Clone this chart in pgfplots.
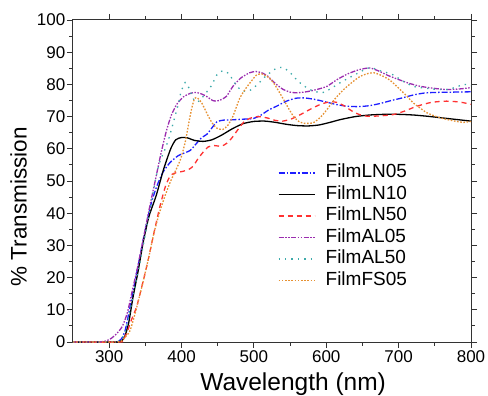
\documentclass[border=0pt]{standalone}
\usepackage{fontspec}
\setmainfont{Liberation Sans}
\usepackage{pgfplots}
\pgfplotsset{compat=1.18}
\definecolor{cblue}{RGB}{30,30,255}
\definecolor{cred}{RGB}{255,50,50}
\definecolor{cpurple}{RGB}{155,45,175}
\definecolor{cteal}{RGB}{60,170,170}
\definecolor{corange}{RGB}{230,145,50}
\begin{document}
\begin{tikzpicture}
\begin{axis}[
  name=ax,
  scale only axis,
  width=398pt, height=322pt,
  xmin=250, xmax=800, ymin=0, ymax=100,
  xtick={300,400,500,600,700,800},
  ytick={0,10,...,100},
  minor x tick num=1, minor y tick num=1,
  tick align=outside,
  major tick length=6pt, minor tick length=3.5pt,
  axis line style={line width=1pt, black!80},
  every tick/.style={line width=0.9pt, black!80},
  tick label style={font=\fontsize{17}{20}\selectfont},
  /pgf/number format/assume math mode=true,
  xticklabel style={inner sep=2pt},
  yticklabel style={inner sep=1.5pt},
  xlabel={Wavelength (nm)},
  ylabel={\% Transmission},
  xlabel style={font=\fontsize{24.5}{28}\selectfont, at={(axis description cs:0.553,-0.13)}, anchor=center},
  ylabel style={font=\fontsize{22.5}{27}\selectfont, at={(axis description cs:-0.137,0.42)}, anchor=center},
  legend style={at={(rel axis cs:0.507,0.562)}, anchor=north west, draw=none, fill=none,
    font=\fontsize{19}{22}\selectfont,
    nodes={inner sep=1pt, text height=13.5pt, text depth=4pt},
    row sep=2pt},
  legend cell align=left,
  legend image code/.code={\draw[#1] (0pt,0pt) -- (36pt,0pt); \path[draw=none] (0pt,0pt) -- (46pt,0pt);},
  every axis plot/.append style={line width=1.3pt, smooth, tension=0.4},
]
\addplot[cblue, dash pattern=on 6pt off 2pt on 1.5pt off 2pt] coordinates {
(250,0)(305,0)(312,0.2)(317,1)(322,3.5)(328,10)(335,18)(342,26)(350,35)(358,43)(366,48.5)(374,52.6)(384,55.7)(395,57.8)(405,58.8)(412,59.5)(420,61.5)(428,63.5)(435,64.5)(442,66.5)(449,68.4)(458,68.9)(470,69)(485,69.2)(499,69.4)(510,70.5)(520,72)(532,73.3)(545,74.8)(558,75.7)(570,75.8)(585,75.3)(600,74.5)(615,73.7)(630,73.2)(645,73.1)(660,73.4)(675,74.1)(690,75)(705,75.8)(720,76.7)(735,77.3)(750,77.5)(775,77.6)(800,77.7)};
\addlegendentry{FilmLN05}
\addplot[black] coordinates {
(250,0)(300,0)(312,0)(318,0.5)(322,2)(327,6)(333,14)(340,22)(347,31)(355,39)(365,45.5)(375,53.5)(385,60)(392,62.8)(400,63.5)(408,63.4)(418,62.6)(430,62.3)(442,62.8)(455,64.2)(470,66.2)(485,67.8)(500,68.5)(515,68.6)(530,68.2)(545,67.6)(560,67.2)(575,67.1)(590,67.4)(605,68.2)(620,69.1)(640,70)(660,70.5)(680,70.7)(700,70.7)(720,70.5)(740,70.1)(760,69.6)(780,69.1)(800,68.6)};
\addlegendentry{FilmLN10}
\addplot[cred, dash pattern=on 5pt off 4pt] coordinates {
(250,0)(315,0)(320,0.8)(325,3.2)(331,7)(338,11)(346,18)(354,25.6)(362,34)(370,42)(378,48.5)(385,51.8)(393,52.6)(402,53)(410,53.6)(416,54.6)(423,57)(430,59)(437,60.6)(445,61)(455,60.8)(463,61.8)(470,63.5)(478,66)(486,68.3)(495,69.5)(505,70)(518,69.6)(530,68.8)(540,68.6)(552,69.3)(565,70.7)(578,72.3)(592,73.8)(605,74.6)(615,74.4)(625,73.3)(635,71.8)(645,70.7)(657,70.1)(672,70.2)(692,70.6)(708,71.7)(725,73.2)(745,74.4)(766,74.8)(785,74.5)(800,73.8)};
\addlegendentry{FilmLN50}
\addplot[cpurple, dash pattern=on 5pt off 1.5pt on 1.5pt off 1.5pt on 1.5pt off 1.5pt] coordinates {
(250,0)(285,0)(295,0.3)(302,1)(310,2.5)(318,4.8)(325,9)(332,16)(340,24)(348,33)(356,42)(364,50.5)(372,59)(379,65.5)(386,70.5)(394,74)(403,76.2)(412,77.2)(420,77.5)(428,77)(435,76.2)(444,74.9)(452,75)(462,76.3)(471,79.4)(482,82)(494,83.6)(503,84)(512,83.5)(520,82.4)(530,80.2)(540,78.5)(550,77.6)(560,77.4)(575,77.8)(590,78.6)(601,79.4)(615,81.5)(630,83.3)(646,84.6)(660,85.1)(672,84.2)(685,82.8)(700,81.5)(715,80.3)(730,79.4)(748,78.8)(766,78.4)(785,78.6)(800,79)};
\addlegendentry{FilmAL05}
\addplot[cteal, dash pattern=on 1.4pt off 5pt] coordinates {
(250,0)(305,0)(315,0.5)(322,3)(329,10)(337,18.5)(345,27.5)(352,36)(358,43)(365,51.5)(370,56)(377,59.8)(382,62.9)(386,66)(391,70.1)(396,74.3)(399,77.4)(405,80.6)(411,78.5)(418,74.8)(424,74.8)(430,76.3)(441,79.5)(449,83)(457,84.2)(465,83.4)(476,79.6)(485,77.9)(495,78.2)(505,80)(517,82.7)(531,85)(541,85.2)(552,83.2)(561,81)(577,78.4)(594,77.4)(607,78.8)(619,80.5)(642,83.3)(660,85.2)(675,84.2)(692,83)(706,81)(720,79.4)(734,78.9)(750,78.5)(767,78.4)(780,79.2)(790,80)(800,79.6)};
\addlegendentry{FilmAL50}
\addplot[corange, dash pattern=on 1.6pt off 1.6pt] coordinates {
(250,0)(310,0)(318,0.5)(324,2)(329,3.6)(336,9)(345,17)(354,25.6)(362,34)(370,40.5)(377,45.3)(385,50)(393,53.8)(399,57)(405,62)(410,68)(414,72.5)(418,75.6)(422,75.8)(428,74.2)(437,70.1)(443,67.8)(449,66.4)(457,66)(464,67.3)(471,70.1)(480,75.5)(488,78.5)(495,80.6)(504,83)(512,83.2)(520,82.2)(527,80.5)(534,78)(541,75.3)(548,72.5)(555,70)(562,68.5)(570,67.9)(582,68.1)(592,69.8)(601,72.2)(612,75.5)(624,78.4)(636,80.7)(647,82.5)(658,83.4)(666,83.6)(676,82.8)(688,81.3)(702,78.4)(712,76.2)(720,74.3)(730,72.6)(739,71.2)(752,70)(767,69.1)(780,68.5)(790,68.2)(800,68.5)};
\addlegendentry{FilmFS05}
\end{axis}
\pgfresetboundingbox
\path[use as bounding box] ([xshift=-73pt,yshift=-53pt]ax.south west) rectangle ([xshift=17pt,yshift=20pt]ax.north east);
\end{tikzpicture}
\end{document}
